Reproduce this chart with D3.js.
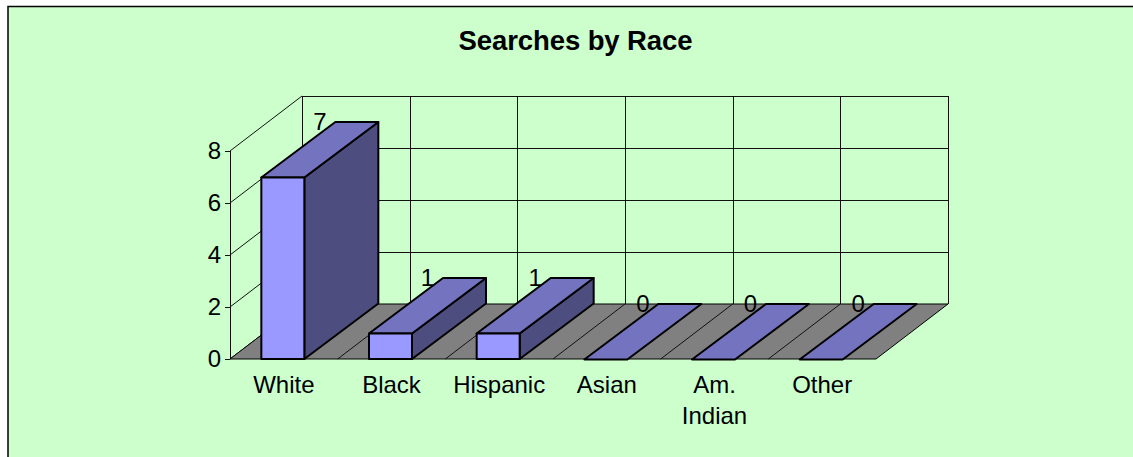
<!DOCTYPE html>
<html><head><meta charset="utf-8">
<script src="https://cdn.jsdelivr.net/npm/d3@7"></script>
<style>html,body{margin:0;padding:0;background:#fff}svg{display:block}text{font-family:"Liberation Sans",Arial,sans-serif;fill:#000}</style>
</head><body><svg id="c" width="1133" height="457"></svg>
<script>
const categories = ["White", "Black", "Hispanic", "Asian", "Am. Indian", "Other"];
const values = [7, 1, 1, 0, 0, 0];
const yTicks = [0, 2, 4, 6, 8];
const title = "Searches by Race";

const svg = d3.select("#c");
const x = d3.scaleBand().domain(categories).range([230, 876]).paddingInner(0).paddingOuter(0);
const y = d3.scaleLinear().domain([0, 8]).range([359, 151]);
const depth = {dx: 72, dy: -55};
const barDepth = {dx: 74, dy: -55.5};
const barW = 43;
const barX = d => x(d) + x.bandwidth() / 2 - barW / 2 - 1;
const poly = pts => pts.map(p => p.join(",")).join(" ");
const bg = "#CCFFCC";
const fs = "24px";

svg.append("rect").attr("x", 8).attr("y", 6.5).attr("width", 1140).attr("height", 470)
  .attr("fill", bg).attr("stroke", "#000").attr("stroke-width", 1.5);

svg.append("text").attr("x", 575.5).attr("y", 50).attr("text-anchor", "middle")
  .attr("font-weight", "bold").style("font-size", "27.5px").style("letter-spacing", "-0.1px").text(title);

// back wall and side wall gridlines
const g = svg.append("g").attr("fill", "none").attr("stroke", "#111").attr("stroke-width", 1);
yTicks.forEach(t => {
  const yy = Math.round(y(t) + depth.dy) + 0.5;
  g.append("line").attr("x1", x.range()[0] + depth.dx).attr("x2", x.range()[1] + depth.dx).attr("y1", yy).attr("y2", yy);
  g.append("line").attr("x1", x.range()[0]).attr("y1", y(t)).attr("x2", x.range()[0] + depth.dx).attr("y2", y(t) + depth.dy);
  g.append("line").attr("x1", x.range()[0] - 5).attr("x2", x.range()[0]).attr("y1", y(t) + .5).attr("y2", y(t) + .5);
});
const edges = categories.map(c => x(c)).concat([x.range()[1]]);
edges.forEach(e => {
  g.append("line").attr("x1", Math.round(e + depth.dx) + .5).attr("x2", Math.round(e + depth.dx) + .5)
    .attr("y1", y(8) + depth.dy).attr("y2", y(0) + depth.dy);
});
g.append("line").attr("x1", x.range()[0] + .5).attr("x2", x.range()[0] + .5).attr("y1", y(8)).attr("y2", y(0));

// floor
svg.append("polygon").attr("points", poly([
  [x.range()[0], y(0)], [x.range()[1], y(0)],
  [x.range()[1] + depth.dx, y(0) + depth.dy], [x.range()[0] + depth.dx, y(0) + depth.dy]
])).attr("fill", "#808080").attr("stroke", "#000").attr("stroke-width", 1);
const fl = svg.append("g").attr("stroke", "#111").attr("stroke-width", 1);
edges.slice(1, -1).forEach(e => {
  fl.append("line").attr("x1", e).attr("y1", y(0)).attr("x2", e + depth.dx).attr("y2", y(0) + depth.dy);
});

// bars
const rows = categories.map((c, i) => ({c, v: values[i]}));
const bars = svg.append("g").selectAll("g").data(rows).join("g")
  .attr("stroke", "#000").attr("stroke-width", 2).attr("stroke-linejoin", "round");
const topY = d => y(d.v) + .5;
bars.filter(d => d.v > 0).append("polygon")
  .attr("points", d => { const a = barX(d.c) + barW; return poly([[a, y(0)], [a + barDepth.dx, y(0) + barDepth.dy], [a + barDepth.dx, topY(d) + barDepth.dy], [a, topY(d)]]); })
  .attr("fill", "#4D4D80");
bars.append("polygon")
  .attr("points", d => { const a = barX(d.c); return poly([[a, topY(d)], [a + barW, topY(d)], [a + barW + barDepth.dx, topY(d) + barDepth.dy], [a + barDepth.dx, topY(d) + barDepth.dy]]); })
  .attr("fill", "#7373BF");
bars.filter(d => d.v > 0).append("rect")
  .attr("x", d => barX(d.c)).attr("y", d => topY(d)).attr("width", barW).attr("height", d => y(0) - topY(d))
  .attr("fill", "#9999FF");

// data labels
svg.append("g").selectAll("text").data(rows).join("text")
  .attr("x", d => barX(d.c) + barW / 2 + 37).attr("y", d => y(d.v) + depth.dy + 8)
  .attr("text-anchor", "middle").style("font-size", fs).text(d => d.v);

// y labels
svg.append("g").selectAll("text").data(yTicks).join("text")
  .attr("x", 221).attr("y", d => y(d) + 8).attr("text-anchor", "end").style("font-size", fs).text(d => d);

// category labels
const cat = svg.append("g").selectAll("text").data(categories).join("text")
  .attr("text-anchor", "middle").style("font-size", fs)
  .attr("transform", d => `translate(${barX(d) + barW / 2 + 1},393)`);
cat.each(function(d) {
  const words = d === "Am. Indian" ? d.split(" ") : [d];
  d3.select(this).selectAll("tspan").data(words).join("tspan").attr("x", 0).attr("dy", (w, i) => i ? 31 : 0).text(w => w);
});
</script></body></html>
